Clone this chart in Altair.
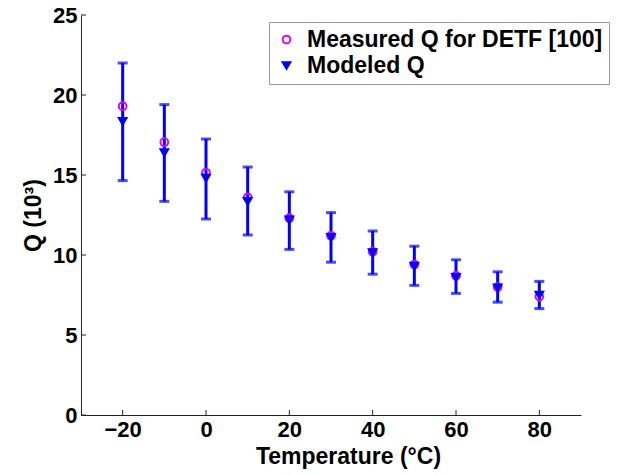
import altair as alt
import pandas as pd

temps = [-20, -10, 0, 10, 20, 30, 40, 50, 60, 70, 80]
measured = [19.3, 17.05, 15.15, 13.6, 12.3, 11.2, 10.2, 9.4, 8.7, 8.0, 7.4]
modeled = [18.35, 16.4, 14.8, 13.35, 12.2, 11.1, 10.15, 9.3, 8.6, 7.95, 7.5]
err_hi = [22.0, 19.4, 17.25, 15.5, 13.95, 12.65, 11.5, 10.55, 9.7, 8.95, 8.35]
err_lo = [14.65, 13.35, 12.25, 11.25, 10.35, 9.55, 8.8, 8.1, 7.6, 7.05, 6.65]

x_ticks = [-20, 0, 20, 40, 60, 80]
y_ticks = [0, 5, 10, 15, 20, 25]

series_names = ["Measured Q for DETF [100]", "Modeled Q"]

err_df = pd.DataFrame({"T": temps, "lo": err_lo, "hi": err_hi})
pts_df = pd.DataFrame({
    "T": temps + temps,
    "Q": measured + modeled,
    "series": [series_names[0]] * len(temps) + [series_names[1]] * len(temps),
    "order": [0] * len(temps) + [1] * len(temps),
})
xt_df = pd.DataFrame({"v": x_ticks})
yt_df = pd.DataFrame({"v": y_ticks})

FONT = "Liberation Sans"
xscale = alt.Scale(domain=[-30, 90], nice=False, zero=False)
yscale = alt.Scale(domain=[0, 25], nice=False)

xaxis = alt.Axis(values=x_ticks, title="Temperature (°C)", grid=False, ticks=False,
                 labelFontSize=22, labelFontWeight="bold", titleFontSize=23, titleFontWeight="bold",
                 labelFont=FONT, titleFont=FONT, labelColor="black", titleColor="black",
                 domainColor="#222222", labelPadding=4,
                 titleX=267, titleY=48, titleBaseline="alphabetic", titleAlign="center")
yaxis = alt.Axis(values=y_ticks, title="Q (10³)", grid=False, ticks=False,
                 labelFontSize=22, labelFontWeight="bold", titleFontSize=23, titleFontWeight="bold",
                 labelFont=FONT, titleFont=FONT, labelColor="black", titleColor="black",
                 domainColor="#222222", labelPadding=4,
                 titleX=-48, titleY=200, titleAngle=270, titleBaseline="middle", titleAlign="center")

base_err = alt.Chart(err_df)
rules = base_err.mark_rule(color="#0000ff", strokeWidth=3).encode(
    x=alt.X("T:Q", scale=xscale, axis=xaxis),
    y=alt.Y("lo:Q", scale=yscale, axis=yaxis),
    y2="hi:Q",
)
cap_hi = base_err.mark_tick(color="#0000ff", orient="horizontal", size=10, thickness=3).encode(
    x=alt.X("T:Q", scale=xscale), y=alt.Y("hi:Q", scale=yscale))
cap_lo = base_err.mark_tick(color="#0000ff", orient="horizontal", size=10, thickness=3).encode(
    x=alt.X("T:Q", scale=xscale), y=alt.Y("lo:Q", scale=yscale))

# inward tick marks (MATLAB style)
xtick_marks = alt.Chart(xt_df).mark_rule(color="#222222", strokeWidth=1).encode(
    x=alt.X("v:Q", scale=xscale), y=alt.value(400), y2=alt.value(395))
ytick_marks = alt.Chart(yt_df).mark_rule(color="#222222", strokeWidth=1).encode(
    y=alt.Y("v:Q", scale=yscale), x=alt.value(0), x2=alt.value(5))

legend = alt.Legend(title=None, orient="none", legendX=188, legendY=7,
                    labelFontSize=23, labelFontWeight="bold", labelFont=FONT, labelColor="black",
                    strokeColor="#999999", fillColor="white", padding=6, rowPadding=2,
                    symbolSize=30, symbolStrokeWidth=2, labelLimit=400, labelOffset=9)

points = alt.Chart(pts_df).mark_point(strokeWidth=2, opacity=1).encode(
    x=alt.X("T:Q", scale=xscale),
    y=alt.Y("Q:Q", scale=yscale),
    color=alt.Color("series:N", scale=alt.Scale(domain=series_names, range=["#dd00ff", "#0000ff"]), legend=legend),
    shape=alt.Shape("series:N", scale=alt.Scale(domain=series_names, range=["circle", "triangle-down"]), legend=legend),
    fill=alt.Fill("series:N", scale=alt.Scale(domain=series_names, range=["transparent", "#0000ff"]), legend=legend),
    size=alt.Size("series:N", scale=alt.Scale(domain=series_names, range=[60, 60]), legend=None),
    order=alt.Order("order:Q"),
)

chart = alt.layer(rules, cap_hi, cap_lo, xtick_marks, ytick_marks, points).properties(
    width=500, height=400, background="white",
    autosize=alt.AutoSizeParams(type="none"),
    padding={"left": 81, "top": 15, "right": 41, "bottom": 60},
).configure_view(stroke=None)

chart.save("out.html", embed_options={"renderer": "svg", "actions": False})
